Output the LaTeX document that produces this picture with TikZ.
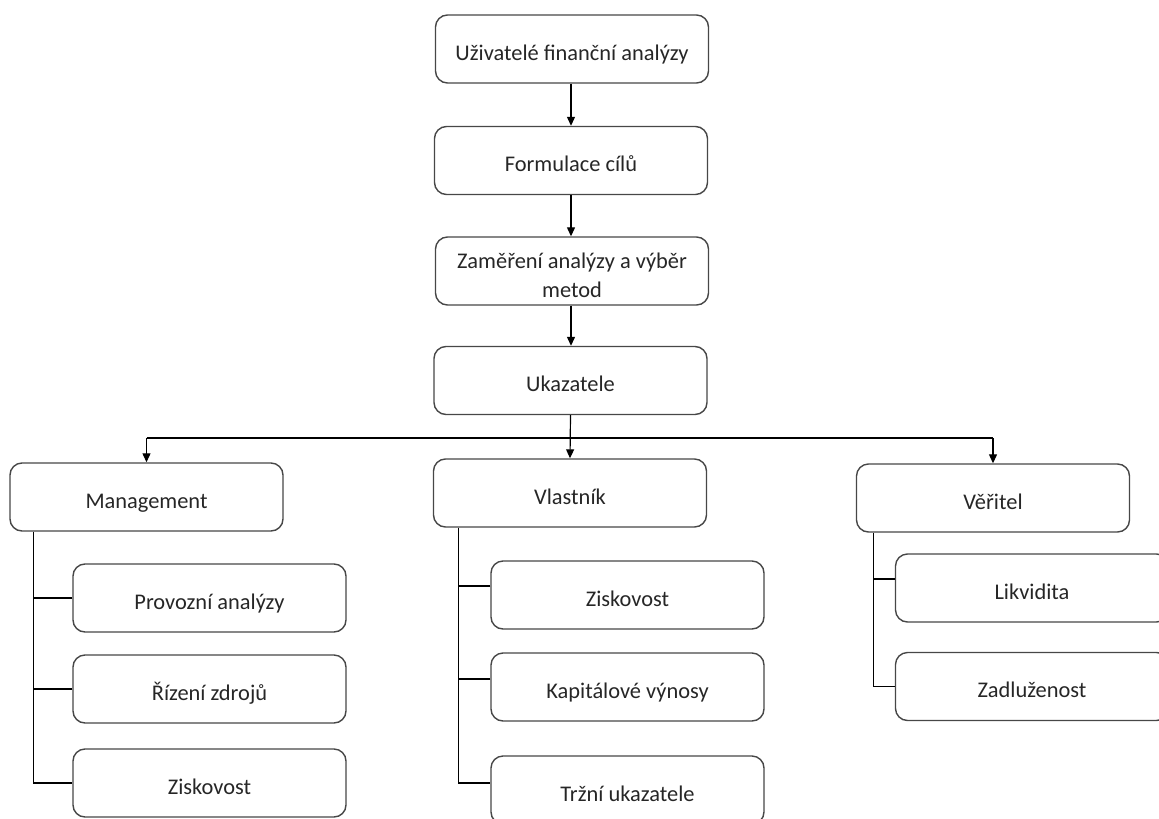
\documentclass[tikz,border=0pt]{standalone}
\usepackage{fontspec}
\setmainfont{Carlito}
\usetikzlibrary{arrows.meta}
\begin{document}
\begin{tikzpicture}[x=1pt,y=-1pt,
  box/.style={draw=black!72, line width=1.4pt, rounded corners=12pt,
    minimum width=273pt, minimum height=68pt,
    font=\fontsize{22.4}{29}\selectfont, text=black!85, inner sep=2pt,
    text height=22pt, text depth=0pt},
  conn/.style={line width=1.2pt, draw=black},
  arr/.style={conn, -{Triangle[length=9pt,width=8pt]}}]
\useasboundingbox (0,0) rectangle (1159,819);
\clip (0,0) rectangle (1159,819);
% main chain
\node[box] (u)  at (572,49)    {Uživatelé finanční analýzy};
\node[box] (f)  at (571,160.5) {Formulace cílů};
\node[box, text height=10pt, text depth=16pt] (z)  at (572,271)
  {\begin{tabular}[t]{@{}c@{}}Zaměření analýzy a výběr\\metod\end{tabular}};
\node[box] (uk) at (570.5,380.5) {Ukazatele};
% second level
\node[box] (m)  at (146.5,497) {Management};
\node[box] (vl) at (570,493)   {Vlastník};
\node[box] (ve) at (993,498)   {Věřitel};
% management children
\node[box] (m1) at (209.5,598) {Provozní analýzy};
\node[box] (m2) at (209.5,689) {Řízení zdrojů};
\node[box] (m3) at (209.5,783) {Ziskovost};
% vlastnik children
\node[box] (v1) at (627.5,595) {Ziskovost};
\node[box] (v2) at (627.5,687) {Kapitálové výnosy};
\node[box] (v3) at (627.5,790) {Tržní ukazatele};
% veritel children
\node[box] (r1) at (1032,588)   {Likvidita};
\node[box] (r2) at (1032,686.5) {Zadluženost};
% arrows in chain
\draw[arr] (f.north |- u.south) -- (f.north);
\draw[arr] (f.south) -- (f.south |- z.north);
\draw[arr] (z.south -| f.south) -- (f.south |- uk.north);
% distribution
\coordinate (j) at (571,438);
\draw[arr] (uk.south) -- (vl.north);
\draw[conn] (m.north |- j) -- (ve.north |- j);
\draw[arr] (m.north |- j) -- (m.north);
\draw[arr] (ve.north |- j) -- (ve.north);
% management tree
\coordinate (mv) at ([xshift=24pt]m.south west);
\draw[conn] (mv) |- (m3.west);
\draw[conn] (m1.west) -- (m1.west -| mv);
\draw[conn] (m2.west) -- (m2.west -| mv);
% vlastnik tree
\coordinate (vv) at ([xshift=26pt]vl.south west);
\draw[conn] (vv) |- ([yshift=7pt]v3.west);
\draw[conn] ([yshift=9pt]v1.west) -- ([yshift=9pt]v1.west -| vv);
\draw[conn] ([yshift=8pt]v2.west) -- ([yshift=8pt]v2.west -| vv);
% veritel tree
\coordinate (rv) at ([xshift=18pt]ve.south west);
\draw[conn] (rv) |- (r2.west);
\draw[conn] ([yshift=9pt]r1.west) -- ([yshift=9pt]r1.west -| rv);
\end{tikzpicture}
\end{document}
